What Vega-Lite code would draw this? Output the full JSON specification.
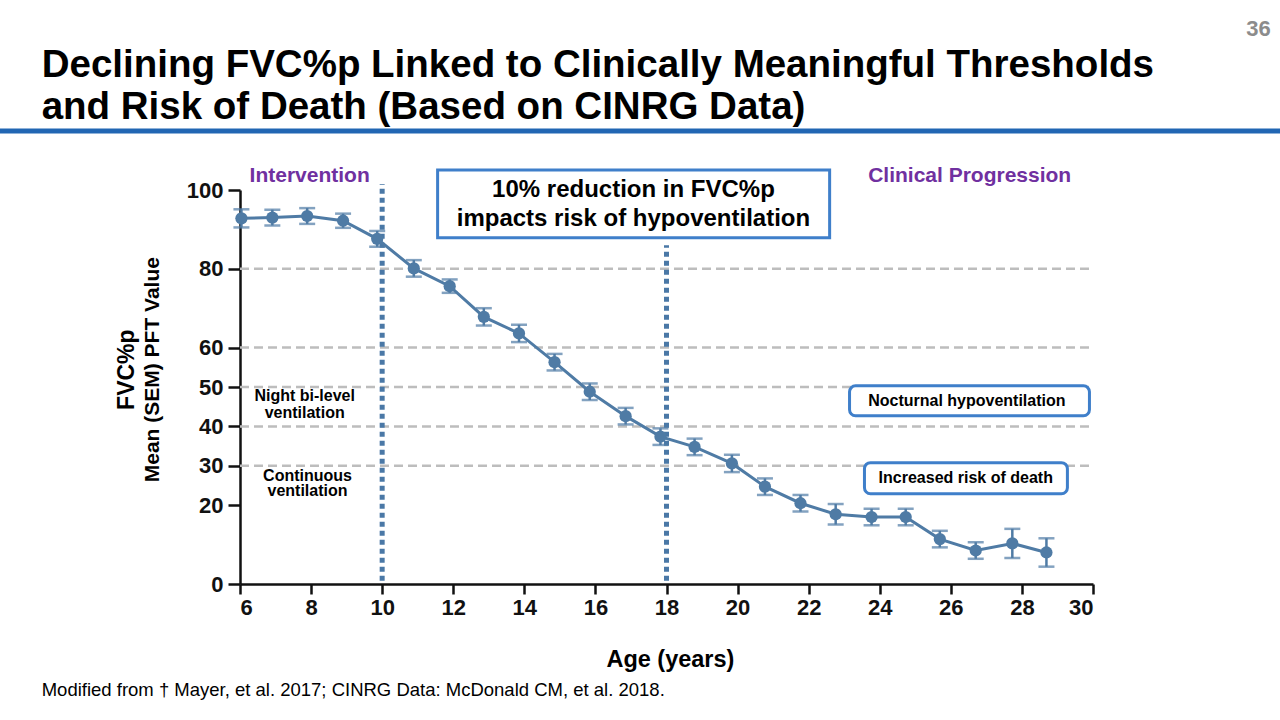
{
  "$schema": "https://vega.github.io/schema/vega-lite/v6.json",
  "width": 853,
  "height": 394,
  "autosize": {"type": "none"},
  "padding": {"left": 240, "top": 190, "right": 187, "bottom": 136},
  "background": "white",
  "config": {
    "view": {"stroke": null},
    "font": "Liberation Sans",
    "axis": {
      "grid": false,
      "labelFont": "Liberation Sans",
      "labelFontWeight": "bold",
      "labelFontSize": 22,
      "labelColor": "#111111",
      "domainColor": "#111111",
      "tickColor": "#111111",
      "domainWidth": 2.5,
      "tickWidth": 2.5
    }
  },
  "datasets": {
    "fvc": [
      {"age": 6.04, "fvc": 92.8, "lo": 90.5, "hi": 95.1},
      {"age": 6.91, "fvc": 93.0, "lo": 91.0, "hi": 95.0},
      {"age": 7.89, "fvc": 93.4, "lo": 91.4, "hi": 95.4},
      {"age": 8.90, "fvc": 92.2, "lo": 90.4, "hi": 94.0},
      {"age": 9.86, "fvc": 87.6, "lo": 85.6, "hi": 89.6},
      {"age": 10.89, "fvc": 80.1, "lo": 78.0, "hi": 82.2},
      {"age": 11.90, "fvc": 75.6, "lo": 73.9, "hi": 77.3},
      {"age": 12.86, "fvc": 67.8, "lo": 65.6, "hi": 70.0},
      {"age": 13.85, "fvc": 63.6, "lo": 61.4, "hi": 65.8},
      {"age": 14.85, "fvc": 56.3, "lo": 54.2, "hi": 58.4},
      {"age": 15.84, "fvc": 48.8, "lo": 46.7, "hi": 50.9},
      {"age": 16.85, "fvc": 42.6, "lo": 40.5, "hi": 44.7},
      {"age": 17.83, "fvc": 37.4, "lo": 35.3, "hi": 39.5},
      {"age": 18.79, "fvc": 34.8, "lo": 32.7, "hi": 36.9},
      {"age": 19.84, "fvc": 30.6, "lo": 28.4, "hi": 32.8},
      {"age": 20.77, "fvc": 24.7, "lo": 22.6, "hi": 26.8},
      {"age": 21.77, "fvc": 20.5, "lo": 18.4, "hi": 22.6},
      {"age": 22.76, "fvc": 17.7, "lo": 15.1, "hi": 20.3},
      {"age": 23.77, "fvc": 17.0, "lo": 14.9, "hi": 19.1},
      {"age": 24.73, "fvc": 17.0, "lo": 14.9, "hi": 19.1},
      {"age": 25.69, "fvc": 11.4, "lo": 9.3, "hi": 13.5},
      {"age": 26.70, "fvc": 8.5, "lo": 6.4, "hi": 10.6},
      {"age": 27.73, "fvc": 10.3, "lo": 6.6, "hi": 14.0},
      {"age": 28.69, "fvc": 8.0, "lo": 4.4, "hi": 11.6}
    ],
    "hlines": [
      {"a1": 6, "a2": 30, "v": 80},
      {"a1": 6, "a2": 30, "v": 60},
      {"a1": 6, "a2": 30, "v": 50},
      {"a1": 6, "a2": 30, "v": 40},
      {"a1": 6, "a2": 30, "v": 30}
    ],
    "vlines": [
      {"a": 10, "v1": 0.8, "v2": 101.5},
      {"a": 18, "v1": 0.8, "v2": 86.0}
    ]
  },
  "layer": [
    {
      "data": {"values": [{"a1": -0.76, "a2": 35.3, "v": 115.0}]},
      "mark": {"type": "rule", "color": "#2166b3", "strokeWidth": 5, "clip": false},
      "encoding": {
        "x": {"field": "a1", "type": "quantitative", "scale": {"domain": [6, 30], "nice": false, "zero": false}},
        "x2": {"field": "a2"},
        "y": {"field": "v", "type": "quantitative", "scale": {"domain": [0, 100], "nice": false}}
      }
    },
    {
      "data": {"name": "hlines"},
      "mark": {"type": "rule", "color": "#bdbdbd", "strokeWidth": 2.5, "strokeDash": [9, 5]},
      "encoding": {
        "x": {"field": "a1", "type": "quantitative", "scale": {"domain": [6, 30]}},
        "x2": {"field": "a2"},
        "y": {"field": "v", "type": "quantitative", "scale": {"domain": [0, 100]}}
      }
    },
    {
      "data": {"name": "vlines"},
      "mark": {"type": "rule", "color": "#4a78a6", "strokeWidth": 5, "strokeDash": [5, 4], "clip": false},
      "encoding": {
        "x": {"field": "a", "type": "quantitative", "scale": {"domain": [6, 30]}},
        "y": {"field": "v1", "type": "quantitative", "scale": {"domain": [0, 100]}},
        "y2": {"field": "v2"}
      }
    },
    {
      "data": {"values": [{"a1": 11.56, "a2": 22.59, "v1": 87.9, "v2": 105.1}]},
      "mark": {"type": "rect", "fill": "white", "stroke": "#3f7fca", "strokeWidth": 3, "clip": false},
      "encoding": {
        "x": {"field": "a1", "type": "quantitative", "scale": {"domain": [6, 30]}},
        "x2": {"field": "a2"},
        "y": {"field": "v1", "type": "quantitative", "scale": {"domain": [0, 100]}},
        "y2": {"field": "v2"}
      }
    },
    {
      "data": {"values": [
        {"a1": 23.15, "a2": 29.9, "v1": 42.7, "v2": 50.3},
        {"a1": 23.57, "a2": 29.28, "v1": 22.9, "v2": 30.8}
      ]},
      "mark": {"type": "rect", "fill": "white", "stroke": "#3f7fca", "strokeWidth": 3, "cornerRadius": 6, "clip": false},
      "encoding": {
        "x": {"field": "a1", "type": "quantitative", "scale": {"domain": [6, 30]}},
        "x2": {"field": "a2"},
        "y": {"field": "v1", "type": "quantitative", "scale": {"domain": [0, 100]}},
        "y2": {"field": "v2"}
      }
    },
    {
      "data": {"name": "fvc"},
      "mark": {"type": "errorbar", "ticks": {"size": 16, "thickness": 2.5}, "thickness": 2.5, "color": "#4f7ba5", "clip": false},
      "encoding": {
        "x": {"field": "age", "type": "quantitative", "scale": {"domain": [6, 30]}},
        "y": {"field": "lo", "type": "quantitative", "scale": {"domain": [0, 100]}},
        "y2": {"field": "hi"}
      }
    },
    {
      "data": {"name": "fvc"},
      "mark": {"type": "line", "color": "#4f7ba5", "strokeWidth": 3, "clip": false},
      "encoding": {
        "x": {"field": "age", "type": "quantitative", "scale": {"domain": [6, 30]}},
        "y": {"field": "fvc", "type": "quantitative", "scale": {"domain": [0, 100]}}
      }
    },
    {
      "data": {"name": "fvc"},
      "mark": {"type": "point", "filled": true, "color": "#4f7ba5", "opacity": 1, "size": 150, "clip": false},
      "encoding": {
        "x": {"field": "age", "type": "quantitative", "scale": {"domain": [6, 30]},
          "axis": {"title": null, "values": [6, 8, 10, 12, 14, 16, 18, 20, 22, 24, 26, 28, 30], "labelPadding": 3, "tickSize": 10}},
        "y": {"field": "fvc", "type": "quantitative", "scale": {"domain": [0, 100]},
          "axis": {"title": null, "values": [0, 20, 30, 40, 50, 60, 80, 100], "labelPadding": 5, "tickSize": 12}}
      }
    },
    {
      "data": {"values": [
        {"a": 0.42, "v": 128.6, "t": "Declining FVC%p Linked to Clinically Meaningful Thresholds"},
        {"a": 0.42, "v": 118.1, "t": "and Risk of Death (Based on CINRG Data)"}
      ]},
      "mark": {"type": "text", "align": "left", "baseline": "alphabetic", "fontSize": 38.5, "fontWeight": "bold", "color": "#000000", "clip": false},
      "encoding": {
        "x": {"field": "a", "type": "quantitative", "scale": {"domain": [6, 30]}},
        "y": {"field": "v", "type": "quantitative", "scale": {"domain": [0, 100]}},
        "text": {"field": "t"}
      }
    },
    {
      "data": {"values": [{"a": 35.0, "v": 139.0, "t": "36"}]},
      "mark": {"type": "text", "align": "right", "baseline": "alphabetic", "fontSize": 22, "fontWeight": "bold", "color": "#8c8c8c", "clip": false},
      "encoding": {
        "x": {"field": "a", "type": "quantitative", "scale": {"domain": [6, 30]}},
        "y": {"field": "v", "type": "quantitative", "scale": {"domain": [0, 100]}},
        "text": {"field": "t"}
      }
    },
    {
      "data": {"values": [
        {"a": 7.96, "v": 103.6, "t": "Intervention"},
        {"a": 26.53, "v": 103.6, "t": "Clinical Progression"}
      ]},
      "mark": {"type": "text", "align": "center", "baseline": "middle", "fontSize": 21, "fontWeight": "bold", "color": "#7030a0", "clip": false},
      "encoding": {
        "x": {"field": "a", "type": "quantitative", "scale": {"domain": [6, 30]}},
        "y": {"field": "v", "type": "quantitative", "scale": {"domain": [0, 100]}},
        "text": {"field": "t"}
      }
    },
    {
      "data": {"values": [
        {"a": 17.07, "v": 100.0, "t": "10% reduction in FVC%p"},
        {"a": 17.07, "v": 92.7, "t": "impacts risk of hypoventilation"}
      ]},
      "mark": {"type": "text", "align": "center", "baseline": "middle", "fontSize": 24, "fontWeight": "bold", "color": "#000000", "clip": false},
      "encoding": {
        "x": {"field": "a", "type": "quantitative", "scale": {"domain": [6, 30]}},
        "y": {"field": "v", "type": "quantitative", "scale": {"domain": [0, 100]}},
        "text": {"field": "t"}
      }
    },
    {
      "data": {"values": [
        {"a": 26.45, "v": 46.4, "t": "Nocturnal hypoventilation"},
        {"a": 26.42, "v": 26.8, "t": "Increased risk of death"}
      ]},
      "mark": {"type": "text", "align": "center", "baseline": "middle", "fontSize": 16, "fontWeight": "bold", "color": "#000000", "clip": false},
      "encoding": {
        "x": {"field": "a", "type": "quantitative", "scale": {"domain": [6, 30]}},
        "y": {"field": "v", "type": "quantitative", "scale": {"domain": [0, 100]}},
        "text": {"field": "t"}
      }
    },
    {
      "data": {"values": [
        {"a": 7.82, "v": 47.6, "t": "Night bi-level"},
        {"a": 7.82, "v": 43.3, "t": "ventilation"},
        {"a": 7.9, "v": 27.5, "t": "Continuous"},
        {"a": 7.9, "v": 23.7, "t": "ventilation"}
      ]},
      "mark": {"type": "text", "align": "center", "baseline": "middle", "fontSize": 16, "fontWeight": "bold", "color": "#000000", "clip": false},
      "encoding": {
        "x": {"field": "a", "type": "quantitative", "scale": {"domain": [6, 30]}},
        "y": {"field": "v", "type": "quantitative", "scale": {"domain": [0, 100]}},
        "text": {"field": "t"}
      }
    },
    {
      "data": {"values": [{"a": 2.82, "v": 54.4, "t": "FVC%p"}]},
      "mark": {"type": "text", "align": "center", "baseline": "middle", "angle": 270, "fontSize": 23, "fontWeight": "bold", "color": "#000000", "clip": false},
      "encoding": {
        "x": {"field": "a", "type": "quantitative", "scale": {"domain": [6, 30]}},
        "y": {"field": "v", "type": "quantitative", "scale": {"domain": [0, 100]}},
        "text": {"field": "t"}
      }
    },
    {
      "data": {"values": [{"a": 3.54, "v": 54.4, "t": "Mean (SEM) PFT Value"}]},
      "mark": {"type": "text", "align": "center", "baseline": "middle", "angle": 270, "fontSize": 21, "fontWeight": "bold", "color": "#000000", "clip": false},
      "encoding": {
        "x": {"field": "a", "type": "quantitative", "scale": {"domain": [6, 30]}},
        "y": {"field": "v", "type": "quantitative", "scale": {"domain": [0, 100]}},
        "text": {"field": "t"}
      }
    },
    {
      "data": {"values": [{"a": 18.11, "v": -21.0, "t": "Age (years)"}]},
      "mark": {"type": "text", "align": "center", "baseline": "alphabetic", "fontSize": 23.5, "fontWeight": "bold", "color": "#000000", "clip": false},
      "encoding": {
        "x": {"field": "a", "type": "quantitative", "scale": {"domain": [6, 30]}},
        "y": {"field": "v", "type": "quantitative", "scale": {"domain": [0, 100]}},
        "text": {"field": "t"}
      }
    },
    {
      "data": {"values": [{"a": 0.42, "v": -28.3, "t": "Modified from † Mayer, et al. 2017; CINRG Data: McDonald CM, et al. 2018."}]},
      "mark": {"type": "text", "align": "left", "baseline": "alphabetic", "fontSize": 18.5, "color": "#000000", "clip": false},
      "encoding": {
        "x": {"field": "a", "type": "quantitative", "scale": {"domain": [6, 30]}},
        "y": {"field": "v", "type": "quantitative", "scale": {"domain": [0, 100]}},
        "text": {"field": "t"}
      }
    }
  ]
}
